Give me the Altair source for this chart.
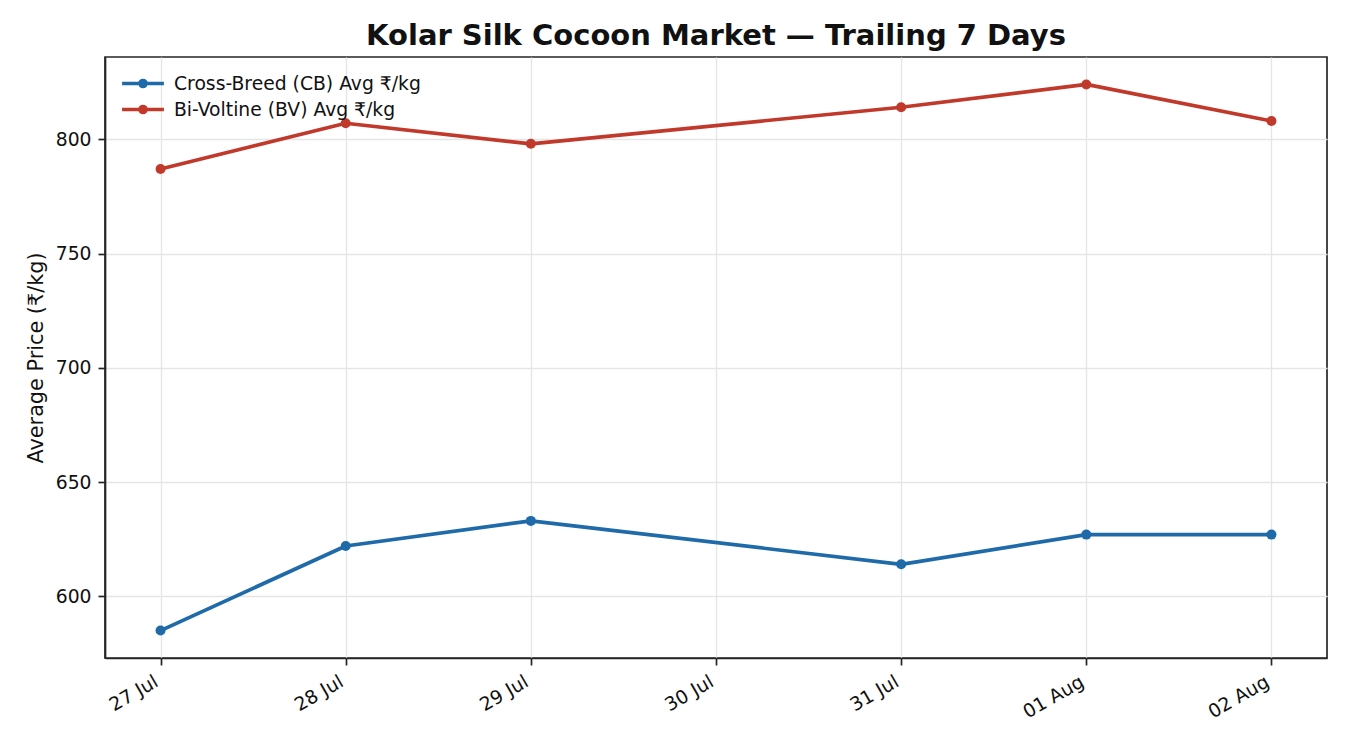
import altair as alt
import pandas as pd

dates = ["2025-07-27", "2025-07-28", "2025-07-29", "2025-07-31", "2025-08-01", "2025-08-02"]
cb_values = [585, 622, 633, 614, 627, 627]
bv_values = [787, 807, 798, 814, 824, 808]
tick_days = ["2025-07-27", "2025-07-28", "2025-07-29", "2025-07-30", "2025-07-31", "2025-08-01", "2025-08-02"]
y_ticks = [600, 650, 700, 750, 800]
series_names = ["Cross-Breed (CB) Avg ₹/kg", "Bi-Voltine (BV) Avg ₹/kg"]
colors = ["#1f6aa8", "#c0392b"]

rows = []
for d, v in zip(dates, cb_values):
    rows.append({"date": d + "T00:00:00Z", "price": v, "series": series_names[0]})
for d, v in zip(dates, bv_values):
    rows.append({"date": d + "T00:00:00Z", "price": v, "series": series_names[1]})
df = pd.DataFrame(rows)

tick_vals = [alt.DateTime(year=int(t[:4]), month=int(t[5:7]), date=int(t[8:10]), utc=True) for t in tick_days]

font = "DejaVu Sans"
# legend handle: line segment plus a (stroked, so visually filled) dot
LEGEND_PATH = ("M-1.55,0 L1.55,0 "
               "M-0.22,0 A0.22,0.22 0 1,0 0.22,0 A0.22,0.22 0 1,0 -0.22,0 "
               "M-0.08,0 A0.08,0.08 0 1,0 0.08,0 A0.08,0.08 0 1,0 -0.08,0")

x_enc = alt.X("date:T",
              scale=alt.Scale(type="utc", domain=[
                  alt.DateTime(year=2025, month=7, date=26, hours=16, minutes=48, utc=True),
                  alt.DateTime(year=2025, month=8, date=2, hours=7, minutes=12, utc=True)]),
              axis=alt.Axis(values=tick_vals, labelExpr="utcFormat(datum.value, '%d %b')",
                            labelAngle=-30, labelAlign="right", labelBaseline="top",
                            labelOffset=-9, title=None))
y_enc = alt.Y("price:Q", scale=alt.Scale(domain=[573, 836], nice=False, zero=False),
              axis=alt.Axis(values=y_ticks, title="Average Price (₹/kg)"))
color_scale = alt.Scale(domain=series_names, range=colors)

lines = alt.Chart(df).mark_line(strokeWidth=3.7, strokeJoin="round").encode(
    x=x_enc, y=y_enc,
    color=alt.Color("series:N", scale=color_scale,
                    legend=alt.Legend(title=None, orient="none", legendX=22.5, legendY=11, padding=0,
                                      labelFont=font, labelFontSize=18.75, labelColor="#111",
                                      symbolType=LEGEND_PATH, symbolSize=729, symbolStrokeWidth=3.7,
                                      rowPadding=0, labelOffset=15.5, labelLimit=600)),
)
points = alt.Chart(df).mark_circle(size=100, opacity=1).encode(
    x=x_enc, y=y_enc,
    color=alt.Color("series:N", scale=color_scale, legend=None),
)

chart = alt.layer(lines, points).properties(
    width=1222, height=601,
    title=alt.TitleParams("Kolar Silk Cocoon Market — Trailing 7 Days", font=font, fontSize=29,
                          fontWeight="bold", color="#111", anchor="middle", offset=6),
    autosize=alt.AutoSizeParams(type="none"),
    padding={"left": 97, "top": 49, "right": 15, "bottom": 84},
).configure_axis(
    labelFont=font, labelFontSize=18.75, labelColor="#111", titleFont=font, titleFontSize=20.8,
    titleFontWeight="normal", titleColor="#111", gridColor="#e5e5e5", gridOpacity=1, gridWidth=1.3,
    domainColor="#262626", tickColor="#262626", tickSize=7, labelPadding=7, domainWidth=1.7, tickWidth=1.7
).configure_axisY(titlePadding=9).configure_view(stroke="#262626", strokeWidth=1.7)

chart.save("out.html", embed_options={"renderer": "svg", "actions": False})
